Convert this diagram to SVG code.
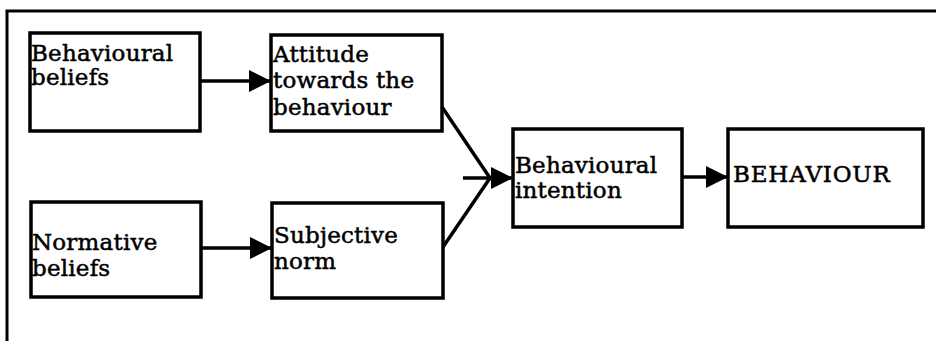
<svg xmlns="http://www.w3.org/2000/svg" width="936" height="341" viewBox="0 0 936 341">
<style>
.box{fill:#fff;stroke:#000;stroke-width:3.5}
.lbl{font-family:"DejaVu Serif","Liberation Serif",serif;font-size:23px;fill:#000;stroke:#000;stroke-width:0.5;letter-spacing:0.2px}
.cap{letter-spacing:0.8px}
.con{fill:none;stroke:#000;stroke-width:3.5}
.frame{fill:none;stroke:#000;stroke-width:3}
</style>
<defs>
<marker id="ah" markerUnits="userSpaceOnUse" markerWidth="24" markerHeight="22" refX="22" refY="11" orient="auto" viewBox="0 0 24 22">
<path d="M0,0 L22,11 L0,22 z" fill="#000"/>
</marker>
</defs>
<rect width="936" height="341" fill="#fff"/>
<path class="frame" d="M7,341 V11 H936"/>
<g id="n1"><rect class="box" x="30" y="33" width="170" height="98"/><text class="lbl" x="31" y="61">Behavioural</text><text class="lbl" x="31" y="85">beliefs</text></g>
<g id="n2"><rect class="box" x="271" y="35" width="171" height="96"/><text class="lbl" x="273" y="62">Attitude</text><text class="lbl" x="273" y="88">towards the</text><text class="lbl" x="273" y="115">behaviour</text></g>
<g id="n3"><rect class="box" x="31" y="202" width="170" height="95"/><text class="lbl" x="32" y="250">Normative</text><text class="lbl" x="32" y="276">beliefs</text></g>
<g id="n4"><rect class="box" x="272" y="203" width="171" height="95"/><text class="lbl" x="274" y="243">Subjective</text><text class="lbl" x="274" y="269">norm</text></g>
<g id="n5"><rect class="box" x="513" y="129" width="169" height="98"/><text class="lbl" x="515" y="173">Behavioural</text><text class="lbl" x="515" y="198">intention</text></g>
<g id="n6"><rect class="box" x="728" y="129" width="195" height="98"/><text class="lbl cap" x="733" y="182">BEHAVIOUR</text></g>
<g id="connectors">
<path class="con" d="M201,81 H271" marker-end="url(#ah)"/>
<path class="con" d="M202,248 H272" marker-end="url(#ah)"/>
<path class="con" d="M442,107 L490,178 M443,247 L490,178"/>
<path class="con" d="M463,178 H513" marker-end="url(#ah)"/>
<path class="con" d="M683,177 H728" marker-end="url(#ah)"/>
</g>
</svg>
